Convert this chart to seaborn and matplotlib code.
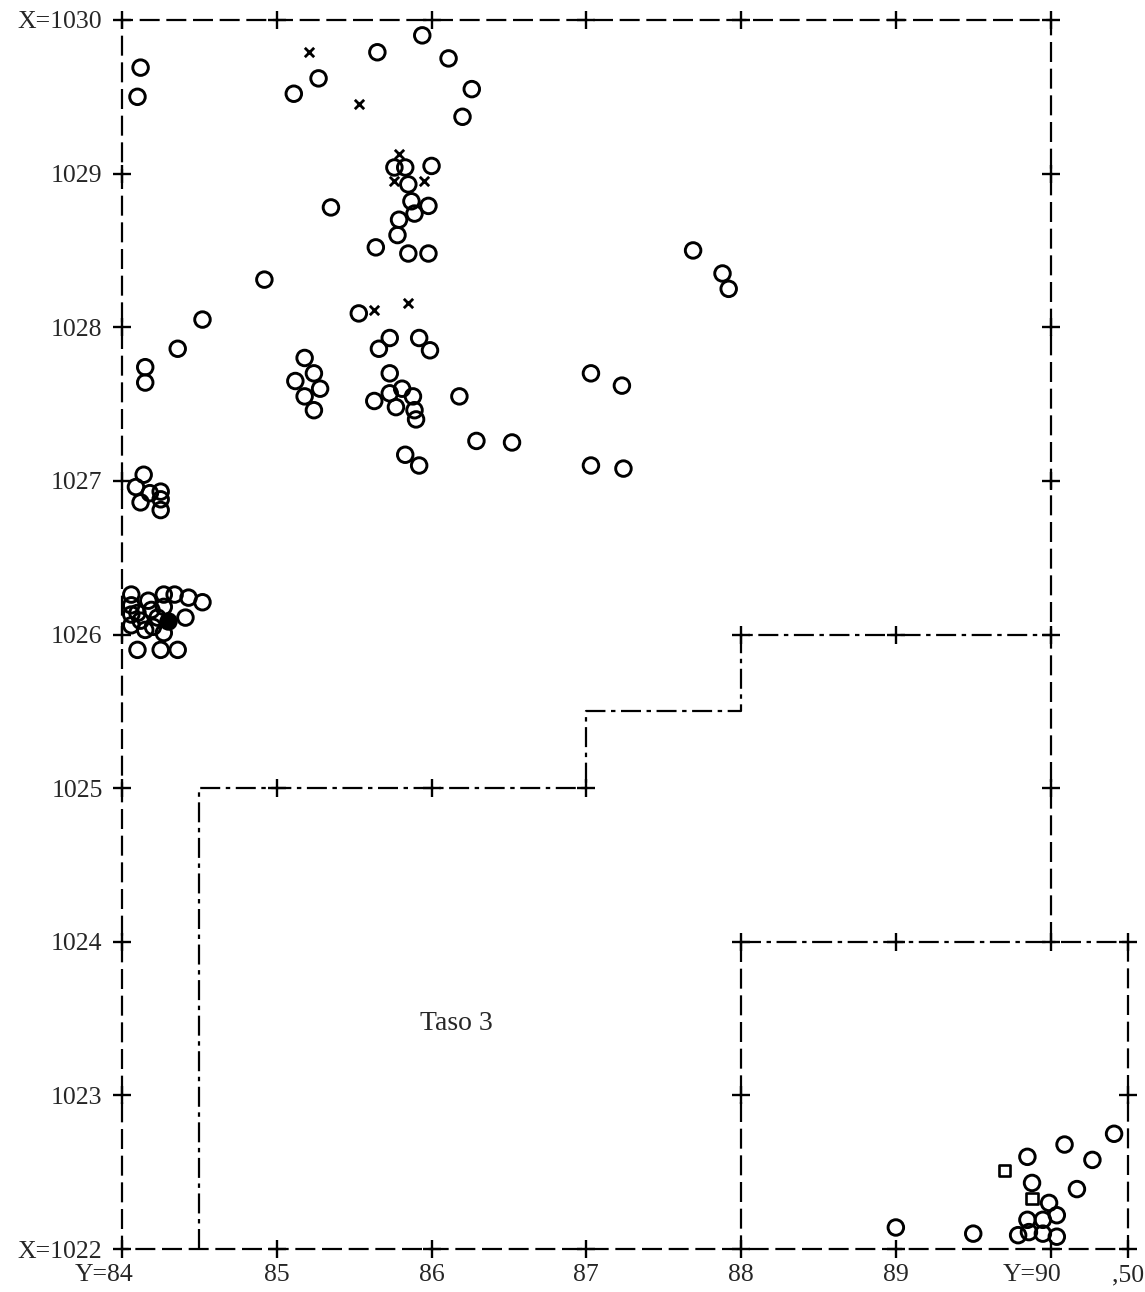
import numpy as np
import matplotlib
matplotlib.use("Agg")
import matplotlib.pyplot as plt
import matplotlib.transforms as mtrans
import seaborn as sns

sns.set_style("white")
plt.rcParams["font.family"] = ["Liberation Serif", "DejaVu Serif"]

# finds: o = circle, x = cross, s = square, filled dot
circ_y = [84.12, 84.10, 85.11, 85.27, 85.65, 85.94, 86.11, 86.26, 86.20,
          85.76, 85.83, 86.00, 85.85, 85.87, 85.98, 85.89, 85.79, 85.78, 85.64, 85.85, 85.98,
          85.35, 84.92, 84.52, 85.53, 87.69, 87.88, 87.92,
          84.15, 84.15, 84.36,
          85.73, 85.66, 85.92, 85.99, 85.18, 85.24, 85.12, 85.28, 85.18, 85.24,
          85.73, 85.81, 85.73, 85.63, 85.88, 85.77, 85.89, 85.90,
          86.18, 86.29, 86.52, 85.83, 85.92, 87.03, 87.23, 87.03, 87.24,
          84.14, 84.09, 84.18, 84.25, 84.12, 84.25, 84.25,
          84.06, 84.17, 84.27, 84.34, 84.43, 84.52, 84.06, 84.19, 84.27, 84.06,
          84.12, 84.23, 84.41, 84.06, 84.15, 84.27, 84.10, 84.25, 84.36, 84.20, 84.10,
          89.00, 89.50, 89.85, 90.09, 90.41, 90.27, 89.88, 90.17, 89.99, 90.04,
          89.85, 89.95, 89.79, 89.86, 89.95, 90.04]
circ_x = [1029.69, 1029.50, 1029.52, 1029.62, 1029.79, 1029.90, 1029.75, 1029.55, 1029.37,
          1029.04, 1029.04, 1029.05, 1028.93, 1028.82, 1028.79, 1028.74, 1028.70, 1028.60, 1028.52, 1028.48, 1028.48,
          1028.78, 1028.31, 1028.05, 1028.09, 1028.50, 1028.35, 1028.25,
          1027.74, 1027.64, 1027.86,
          1027.93, 1027.86, 1027.93, 1027.85, 1027.80, 1027.70, 1027.65, 1027.60, 1027.55, 1027.46,
          1027.70, 1027.60, 1027.57, 1027.52, 1027.55, 1027.48, 1027.46, 1027.40,
          1027.55, 1027.26, 1027.25, 1027.17, 1027.10, 1027.70, 1027.62, 1027.10, 1027.08,
          1027.04, 1026.96, 1026.92, 1026.93, 1026.86, 1026.88, 1026.81,
          1026.26, 1026.22, 1026.26, 1026.26, 1026.24, 1026.21, 1026.19, 1026.16, 1026.18, 1026.13,
          1026.09, 1026.11, 1026.11, 1026.06, 1026.03, 1026.01, 1025.90, 1025.90, 1025.90, 1026.05, 1026.14,
          1022.14, 1022.10, 1022.60, 1022.68, 1022.75, 1022.58, 1022.43, 1022.39, 1022.30, 1022.22,
          1022.19, 1022.19, 1022.09, 1022.11, 1022.10, 1022.08]
cross_y = [85.21, 85.53, 85.79, 85.76, 85.95, 85.63, 85.85]
cross_x = [1029.79, 1029.45, 1029.13, 1028.95, 1028.95, 1028.11, 1028.16]
square_y = [89.70, 89.88]
square_x = [1022.51, 1022.33]
dot_y = [84.30]
dot_x = [1026.09]

# grid crosses along the trench outlines
plus_y = [84, 85, 86, 87, 88, 89, 90,
          84, 84, 84, 84, 84, 84, 84, 84,
          85, 86, 87, 88, 89, 90, 90.5,
          90, 90, 90, 90, 90, 90,
          90.5, 90.5,
          85, 86, 87, 88, 89, 88, 89, 88]
plus_x = [1030, 1030, 1030, 1030, 1030, 1030, 1030,
          1022, 1023, 1024, 1025, 1026, 1027, 1028, 1029,
          1022, 1022, 1022, 1022, 1022, 1022, 1022,
          1024, 1025, 1026, 1027, 1028, 1029,
          1023, 1024,
          1025, 1025, 1025, 1026, 1026, 1024, 1024, 1023]

# outlines
outer_y = [90, 90, 84, 84, 90.5, 90.5]
outer_x = [1024, 1030, 1030, 1022, 1022, 1024]
inner_y = [88, 88]
inner_x = [1024, 1022]
step_y = [84.5, 84.5, 87, 87, 88, 88, 90]
step_x = [1022, 1025, 1025, 1025.5, 1025.5, 1026, 1026]
edge_y = [88, 90.5]
edge_x = [1024, 1024]

xticks = [84, 85, 86, 87, 88, 89, 90, 90.5]
xlabels = ["Y=84", "85", "86", "87", "88", "89", "Y=90", ",50"]
yticks = [1022, 1023, 1024, 1025, 1026, 1027, 1028, 1029, 1030]
ylabels = ["X=1022", "1023", "1024", "1025", "1026", "1027", "1028", "1029", "X=1030"]

fig = plt.figure(figsize=(11.45, 12.92), dpi=100)
ax = fig.add_axes([122 / 1145, 43 / 1292, 1006 / 1145, 1229 / 1292])

dash = (0, (9, 3))
dashdot = (0, (9, 2.5, 2, 2.5))
ax.plot(outer_y, outer_x, color="k", lw=1.6, ls=dash, clip_on=False)
ax.plot(inner_y, inner_x, color="k", lw=1.6, ls=dash, clip_on=False)
ax.plot(step_y, step_x, color="k", lw=1.6, ls=dashdot, clip_on=False)
ax.plot(edge_y, edge_x, color="k", lw=1.6, ls=dashdot, clip_on=False)

sns.scatterplot(x=plus_y, y=plus_x, marker="+", s=150, color="k", linewidth=1.7, clip_on=False, ax=ax, zorder=3)
sns.scatterplot(x=circ_y, y=circ_x, marker="o", s=125, facecolor="none", edgecolor="k", linewidth=2.1, clip_on=False, ax=ax, zorder=4)
sns.scatterplot(x=cross_y, y=cross_x, marker="x", s=45, color="k", linewidth=2, clip_on=False, ax=ax, zorder=4)
sns.scatterplot(x=square_y, y=square_x, marker="s", s=64, facecolor="none", edgecolor="k", linewidth=1.9, clip_on=False, ax=ax, zorder=4)
sns.scatterplot(x=dot_y, y=dot_x, marker="o", s=125, facecolor="k", edgecolor="k", linewidth=2.1, clip_on=False, ax=ax, zorder=5)

ax.text(86.16, 1023.47, "Taso 3", fontsize=20, ha="center", va="center")

ax.set_xlim(84, 90.5)
ax.set_ylim(1022, 1030)
ax.set_xticks(xticks, labels=xlabels, fontsize=18.5)
ax.set_yticks(yticks, labels=ylabels, fontsize=18.5)
ax.tick_params(length=0)
ax.tick_params(axis="y", pad=14)
ax.tick_params(axis="x", pad=11)
for lab in ax.get_xticklabels():
    if lab.get_text() in ("Y=84", "Y=90"):
        lab.set_ha("right")
        lab.set_transform(lab.get_transform() + mtrans.ScaledTranslation(11 / 100, 0, fig.dpi_scale_trans))
ax.set_xlabel("")
ax.set_ylabel("")
sns.despine(ax=ax, left=True, bottom=True)

fig.savefig("out.png", dpi=100, facecolor="white")
